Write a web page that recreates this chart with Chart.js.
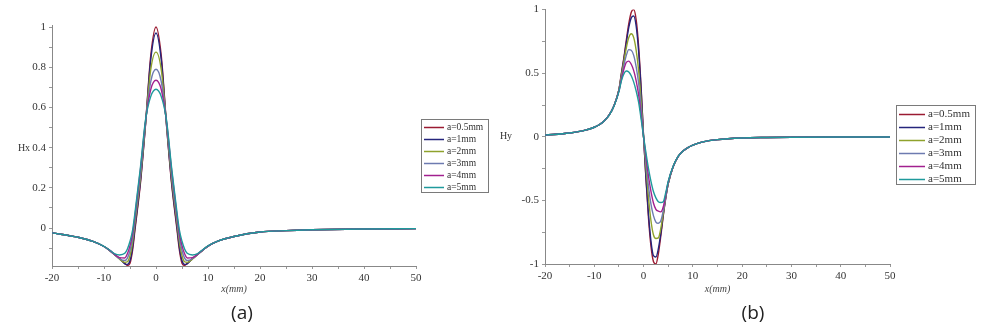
<!DOCTYPE html>
<html lang="en">
  <head>
    <meta charset="UTF-8" />
    <title>Hx / Hy</title>
    <script src="https://cdn.jsdelivr.net/npm/chart.js@4.4.1/dist/chart.umd.min.js"></script>
    <style>
      body {
        margin: 0;
        background: #ffffff;
        width: 995px;
        height: 333px;
        overflow: hidden;
        position: relative;
        font-family: "Liberation Serif", serif;
      }
      .panel {
        position: absolute;
        top: 0;
      }
      .ylab {
        position: absolute;
        font-size: 10px;
        color: #333;
        transform: translate(-50%, -50%);
      }
      .cap {
        position: absolute;
        font-family: "Open Sans", sans-serif;
        font-size: 19px;
        color: #222;
        transform: translate(-50%, -50%);
      }
    </style>
  </head>
  <body>
    <div class="panel" style="left: 0"><canvas id="hxChart" width="497" height="300"></canvas></div>
    <div class="panel" style="left: 500px"><canvas id="hyChart" width="495" height="300"></canvas></div>
    <span class="ylab" style="left: 24px; top: 147px">Hx</span>
    <span class="ylab" style="left: 506px; top: 135px">Hy</span>
    <span class="cap" style="left: 242px; top: 312px">(a)</span>
    <span class="cap" style="left: 753px; top: 312px">(b)</span>

    <script>
      // series names and colours
      const seriesNames = ["a=0.5mm", "a=1mm", "a=2mm", "a=3mm", "a=4mm", "a=5mm"];
      const seriesColors = ["#9b1b32", "#25257c", "#8fa22c", "#6d7bb0", "#a2208f", "#1f9a9c"];

      // (a) Hx
      const xHx = [-20, -15, -12, -10, -9, -8, -7, -6, -5.5, -5, -4.5, -4, -3, -2, -1, 0,
        1, 2, 3, 4, 4.5, 5, 5.5, 6, 7, 8, 9, 10, 12, 15, 20, 25, 30, 40, 50];
      const hx05 = [-0.024, -0.046, -0.068, -0.092, -0.110, -0.132, -0.152, -0.176, -0.186, -0.175, -0.110, 0.000, 0.220, 0.520, 0.860, 1.000,
        0.860, 0.520, 0.220, 0.000, -0.110, -0.175, -0.186, -0.176, -0.152, -0.132, -0.110, -0.090, -0.064, -0.042, -0.020, -0.013, -0.009, -0.005, -0.003];
      const hx1 = [-0.024, -0.046, -0.068, -0.092, -0.110, -0.132, -0.153, -0.178, -0.181, -0.162, -0.096, 0.012, 0.230, 0.520, 0.840, 0.970,
        0.840, 0.520, 0.230, 0.012, -0.096, -0.162, -0.181, -0.178, -0.153, -0.132, -0.110, -0.090, -0.064, -0.042, -0.020, -0.013, -0.009, -0.005, -0.003];
      const hx2 = [-0.024, -0.046, -0.068, -0.092, -0.110, -0.132, -0.155, -0.171, -0.168, -0.138, -0.070, 0.035, 0.250, 0.525, 0.790, 0.875,
        0.790, 0.525, 0.250, 0.035, -0.070, -0.138, -0.168, -0.171, -0.155, -0.132, -0.110, -0.090, -0.064, -0.042, -0.020, -0.013, -0.009, -0.005, -0.003];
      const hx3 = [-0.024, -0.046, -0.068, -0.092, -0.110, -0.131, -0.153, -0.162, -0.150, -0.112, -0.048, 0.055, 0.270, 0.530, 0.730, 0.790,
        0.730, 0.530, 0.270, 0.055, -0.048, -0.112, -0.150, -0.162, -0.153, -0.131, -0.110, -0.090, -0.064, -0.042, -0.020, -0.013, -0.009, -0.005, -0.003];
      const hx4 = [-0.024, -0.046, -0.068, -0.092, -0.109, -0.130, -0.147, -0.149, -0.128, -0.088, -0.028, 0.070, 0.290, 0.535, 0.690, 0.735,
        0.690, 0.535, 0.290, 0.070, -0.028, -0.088, -0.128, -0.149, -0.147, -0.130, -0.109, -0.090, -0.064, -0.042, -0.020, -0.013, -0.009, -0.005, -0.003];
      const hx5 = [-0.024, -0.046, -0.068, -0.091, -0.108, -0.127, -0.134, -0.126, -0.104, -0.066, -0.010, 0.085, 0.300, 0.540, 0.655, 0.690,
        0.655, 0.540, 0.300, 0.085, -0.010, -0.066, -0.104, -0.126, -0.134, -0.127, -0.108, -0.089, -0.064, -0.042, -0.020, -0.013, -0.009, -0.005, -0.003];

      // (b) Hy
      const xHy = [-20, -15, -12, -10, -9, -8, -7, -6, -5, -4.5, -4, -3.5, -3, -2.5, -2, -1.5, -1, -0.5, 0,
        0.5, 1, 1.5, 2, 2.5, 3, 3.5, 4, 4.5, 5, 6, 7, 8, 9, 10, 12, 15, 20, 25, 30, 40, 50];
      const hy05 = [0.013, 0.030, 0.050, 0.075, 0.095, 0.125, 0.170, 0.245, 0.370, 0.500, 0.620, 0.760, 0.890, 0.980, 1.000, 0.920, 0.710, 0.390, 0,
        -0.340, -0.640, -0.860, -0.980, -1.000, -0.920, -0.780, -0.620, -0.480, -0.370, -0.235, -0.155, -0.112, -0.085, -0.065, -0.040, -0.022, -0.009, -0.005, -0.003, -0.001, -0.001];
      const hy1 = [0.013, 0.030, 0.050, 0.075, 0.095, 0.125, 0.170, 0.245, 0.370, 0.490, 0.610, 0.740, 0.860, 0.935, 0.950, 0.870, 0.670, 0.370, 0,
        -0.330, -0.610, -0.820, -0.935, -0.945, -0.880, -0.760, -0.610, -0.480, -0.370, -0.235, -0.155, -0.112, -0.085, -0.065, -0.040, -0.022, -0.009, -0.005, -0.003, -0.001, -0.001];
      const hy2 = [0.013, 0.030, 0.050, 0.075, 0.095, 0.125, 0.170, 0.245, 0.370, 0.480, 0.590, 0.700, 0.780, 0.810, 0.780, 0.680, 0.520, 0.280, 0,
        -0.250, -0.480, -0.660, -0.770, -0.800, -0.795, -0.720, -0.600, -0.470, -0.365, -0.235, -0.155, -0.112, -0.085, -0.065, -0.040, -0.022, -0.009, -0.005, -0.003, -0.001, -0.001];
      const hy3 = [0.013, 0.030, 0.050, 0.075, 0.095, 0.125, 0.170, 0.245, 0.365, 0.460, 0.560, 0.640, 0.685, 0.680, 0.640, 0.550, 0.420, 0.220, 0,
        -0.200, -0.390, -0.530, -0.620, -0.670, -0.680, -0.660, -0.580, -0.465, -0.360, -0.235, -0.155, -0.112, -0.085, -0.065, -0.040, -0.022, -0.009, -0.005, -0.003, -0.001, -0.001];
      const hy4 = [0.013, 0.030, 0.050, 0.075, 0.095, 0.125, 0.170, 0.244, 0.360, 0.450, 0.530, 0.585, 0.595, 0.570, 0.520, 0.440, 0.330, 0.170, 0,
        -0.160, -0.310, -0.430, -0.520, -0.570, -0.585, -0.590, -0.550, -0.455, -0.355, -0.234, -0.155, -0.112, -0.085, -0.065, -0.040, -0.022, -0.009, -0.005, -0.003, -0.001, -0.001];
      const hy5 = [0.013, 0.030, 0.050, 0.075, 0.095, 0.125, 0.169, 0.242, 0.355, 0.440, 0.495, 0.517, 0.510, 0.480, 0.430, 0.360, 0.270, 0.140, 0,
        -0.130, -0.250, -0.350, -0.430, -0.480, -0.510, -0.517, -0.510, -0.440, -0.350, -0.232, -0.154, -0.112, -0.085, -0.065, -0.040, -0.022, -0.009, -0.005, -0.003, -0.001, -0.001];

      const hxSeries = [hx05, hx1, hx2, hx3, hx4, hx5];
      const hySeries = [hy05, hy1, hy2, hy3, hy4, hy5];

      // legend with a frame, drawn at a fixed spot beside the plot
      const boxLegend = {
        id: "boxLegend",
        afterDraw(chart, args, o) {
          const ctx = chart.ctx;
          ctx.save();
          ctx.strokeStyle = "#7a7a7a";
          ctx.lineWidth = 1;
          ctx.strokeRect(o.x + 0.5, o.y + 0.5, o.w, o.h);
          ctx.font = o.size + 'px "Liberation Serif"';
          ctx.textBaseline = "middle";
          chart.data.datasets.forEach((ds, i) => {
            const y = Math.round(o.y + o.first + i * o.row) + 0.5;
            ctx.strokeStyle = ds.borderColor;
            ctx.lineWidth = 1.5;
            ctx.beginPath();
            ctx.moveTo(o.x + 3, y);
            ctx.lineTo(o.x + 3 + o.line, y);
            ctx.stroke();
            ctx.fillStyle = "#333";
            ctx.fillText(ds.label, o.x + o.line + 6, y);
          });
          ctx.restore();
        },
      };

      function makeDatasets(xs, series) {
        return series.map((ys, i) => ({
          label: seriesNames[i],
          data: xs.map((x, j) => ({ x: x, y: ys[j] })),
          borderColor: seriesColors[i],
          borderWidth: 1.4,
          pointRadius: 0,
          cubicInterpolationMode: "monotone",
          order: series.length - i,
        }));
      }

      const tickFont = { family: "Liberation Serif", size: 11 };

      function xAxis(h, titlePad) {
        return {
          type: "linear",
          min: -20,
          max: 50,
          afterFit: (s) => { s.height = h; },
          ticks: {
            stepSize: 5,
            autoSkip: false,
            maxRotation: 0,
            padding: 3,
            color: "#333",
            font: tickFont,
            callback: (v) => (v % 10 === 0 ? String(v) : ""),
          },
          grid: { drawOnChartArea: false, tickLength: 3, color: "#999" },
          border: { color: "#888" },
          title: {
            display: true,
            text: "x(mm)",
            color: "#444",
            font: { family: "Liberation Serif", size: 10, style: "italic" },
            padding: { top: 0, bottom: titlePad },
          },
        };
      }

      function makeChart(id, xs, series, yOpts, pad, leftW, xH, titlePad, legend) {
        return new Chart(document.getElementById(id), {
          type: "line",
          data: { datasets: makeDatasets(xs, series) },
          options: {
            responsive: false,
            animation: false,
            layout: { padding: pad, autoPadding: false },
            plugins: { legend: { display: false }, tooltip: { enabled: false }, boxLegend: legend },
            scales: {
              x: xAxis(xH, titlePad),
              y: Object.assign(
                {
                  type: "linear",
                  afterFit: (s) => { s.width = leftW; },
                  grid: { drawOnChartArea: false, tickLength: 3, color: "#999" },
                  border: { color: "#888" },
                },
                yOpts
              ),
            },
          },
          plugins: [boxLegend],
        });
      }

      makeChart(
        "hxChart", xHx, hxSeries,
        {
          min: -0.189,
          max: 1.01,
          ticks: {
            stepSize: 0.1,
            includeBounds: false,
            padding: 3,
            color: "#333",
            font: tickFont,
            callback: (v) => (Math.round(v * 10) % 2 === 0 ? String(Math.round(v * 10) / 10) : ""),
          },
        },
        { left: 0, right: 81, top: 25, bottom: 0 }, 52, 34, 5,
        { x: 421, y: 119, w: 67, h: 73, first: 8, row: 12, line: 20, size: 9.5 }
      );

      makeChart(
        "hyChart", xHy, hySeries,
        {
          min: -1,
          max: 1,
          ticks: {
            stepSize: 0.25,
            includeBounds: false,
            padding: 3,
            color: "#333",
            font: tickFont,
            callback: (v) => (Math.round(v * 4) % 2 === 0 ? String(v) : ""),
          },
        },
        { left: 0, right: 105, top: 6, bottom: 0 }, 45, 36, 5,
        { x: 396, y: 105, w: 79, h: 79, first: 9, row: 12.9, line: 26, size: 11 }
      );
    </script>
  </body>
</html>
